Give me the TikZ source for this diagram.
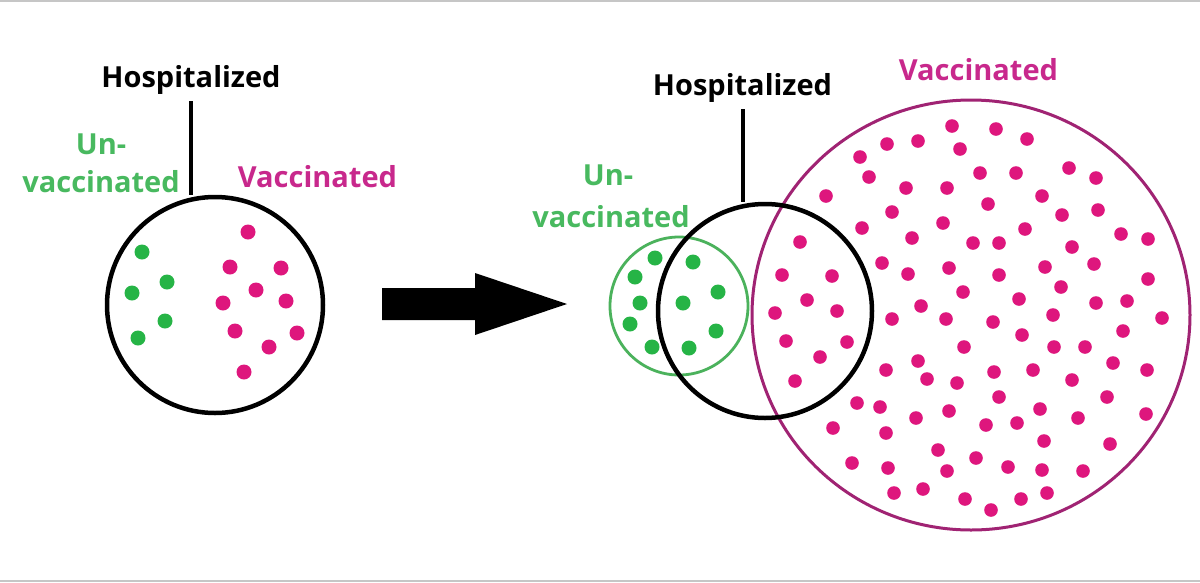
\documentclass[tikz,border=0pt]{standalone}
\usepackage{fontspec}
\setmainfont{Open Sans}
\usetikzlibrary{shapes.geometric}
\definecolor{gtext}{RGB}{72,185,95}
\definecolor{mtext}{RGB}{200,40,140}
\definecolor{gdot}{RGB}{38,180,70}
\definecolor{mdot}{RGB}{222,22,125}
\definecolor{gring}{RGB}{75,178,92}
\definecolor{mring}{RGB}{160,35,115}
\begin{document}
\begin{tikzpicture}[x=1pt,y=-1pt,
  lbl/.style={anchor=base,inner sep=0pt,font=\fontsize{29}{32}\selectfont\bfseries},
  blk/.style={lbl,text=black},
  grn/.style={lbl,text=gtext},
  mag/.style={lbl,text=mtext},
  hring/.style={circle,draw=black,line width=4.5pt,inner sep=0pt},
  hline/.style={draw=black,line width=4pt},
  gdotst/.style={fill=gdot},
  mdotst/.style={fill=mdot}]
\useasboundingbox (0,0) rectangle (1200,582);
\fill[white] (0,0) rectangle (1200,582);
\draw[gray!45,line width=1.5pt] (0,0.8) -- (1200,0.8);
\draw[gray!45,line width=1.5pt] (0,581.2) -- (1200,581.2);

% ---------- left panel ----------
\node[blk] (h1) at (191,87) {Hospitalized};
\node[grn] (un1) at (101,154) {Un-};
\node[grn] (vac1) at (101,192) {vaccinated};
\node[mag] (v1) at (317.5,187) {Vaccinated};
\node[hring,minimum size=216pt] (c1) at (215,305) {};
\draw[hline] ([yshift=-7pt]h1.south) -- (h1.south |- c1.north);
\foreach \x/\y in {142/252,167/282,132/293,165/321,138/338}
  \fill[gdotst] (\x,\y) circle (7.5);
\foreach \x/\y in {248/232,230/267,281/268,256/290,223/303,286/301,235/331,297/333,269/347,244/372}
  \fill[mdotst] (\x,\y) circle (7.5);

% ---------- arrow ----------
\fill[black] (382,288) -- (475,288) -- (475,273) -- (567,304) -- (475,335) -- (475,320) -- (382,320) -- cycle;

% ---------- right panel ----------
\node[draw=mring,line width=3pt,ellipse,minimum width=438pt,minimum height=430pt,inner sep=0pt] (c3) at (971,315) {};
\foreach \x/\y in {952/126,996/129,887/144,918/141,960/149,860/157,869/177,980/173,906/188,947/188,
  826/196,988/204,892/212,862/228,943/223,912/238,800/242,973/243,999/243,882/263,
  949/268,908/274,782/275,832/276,999/275,963/292,807/300,775/313,837/311,921/306,
  892/319,946/319,
  993/322,786/341,847/342,964/347,820/357,918/361,886/370,994/372,795/381,927/379,
  957/383,999/397,857/403,880/407,949/411,916/418,986/425,833/428,886/433,938/450,
  976/458,852/463,888/468,947/471,894/493,923/489,965/499,991/510,
  1027/139,1016/173,1069/168,1096/178,1042/196,1062/215,1098/210,1025/229,1121/234,1148/239,
  1072/247,1045/267,1094/264,1148/279,1061/287,1019/299,1096/303,1127/301,1053/315,1162/318,
  1022/335,1123/331,1054/347,1085/347,1033/370,1113/363,1147/370,1072/380,1107/397,1040/409,
  1078/418,1146/414,1017/423,1044/441,1110/444,1008/467,1042/470,1083/471,1021/499,1047/493}
  \fill[mdotst] (\x,\y) circle (6.8);
\node[draw=gring,line width=2.8pt,circle,minimum size=138pt,inner sep=0pt] (c2) at (679,306) {};
\foreach \x/\y in {655/258,693/262,635/277,718/292,640/303,683/303,630/324,716/331,652/347,689/348}
  \fill[gdotst] (\x,\y) circle (7.5);
\node[hring,minimum size=214pt] (c4) at (765,311) {};
\node[blk] (h2) at (742.5,95) {Hospitalized};
\draw[hline] ([yshift=-7pt]h2.south) -- (h2.south |- c4.north);
\node[grn] (un2) at (608,185) {Un-};
\node[grn] (vac2) at (611,227) {vaccinated};
\node[mag] (v2) at (978.5,80) {Vaccinated};
\end{tikzpicture}
\end{document}
